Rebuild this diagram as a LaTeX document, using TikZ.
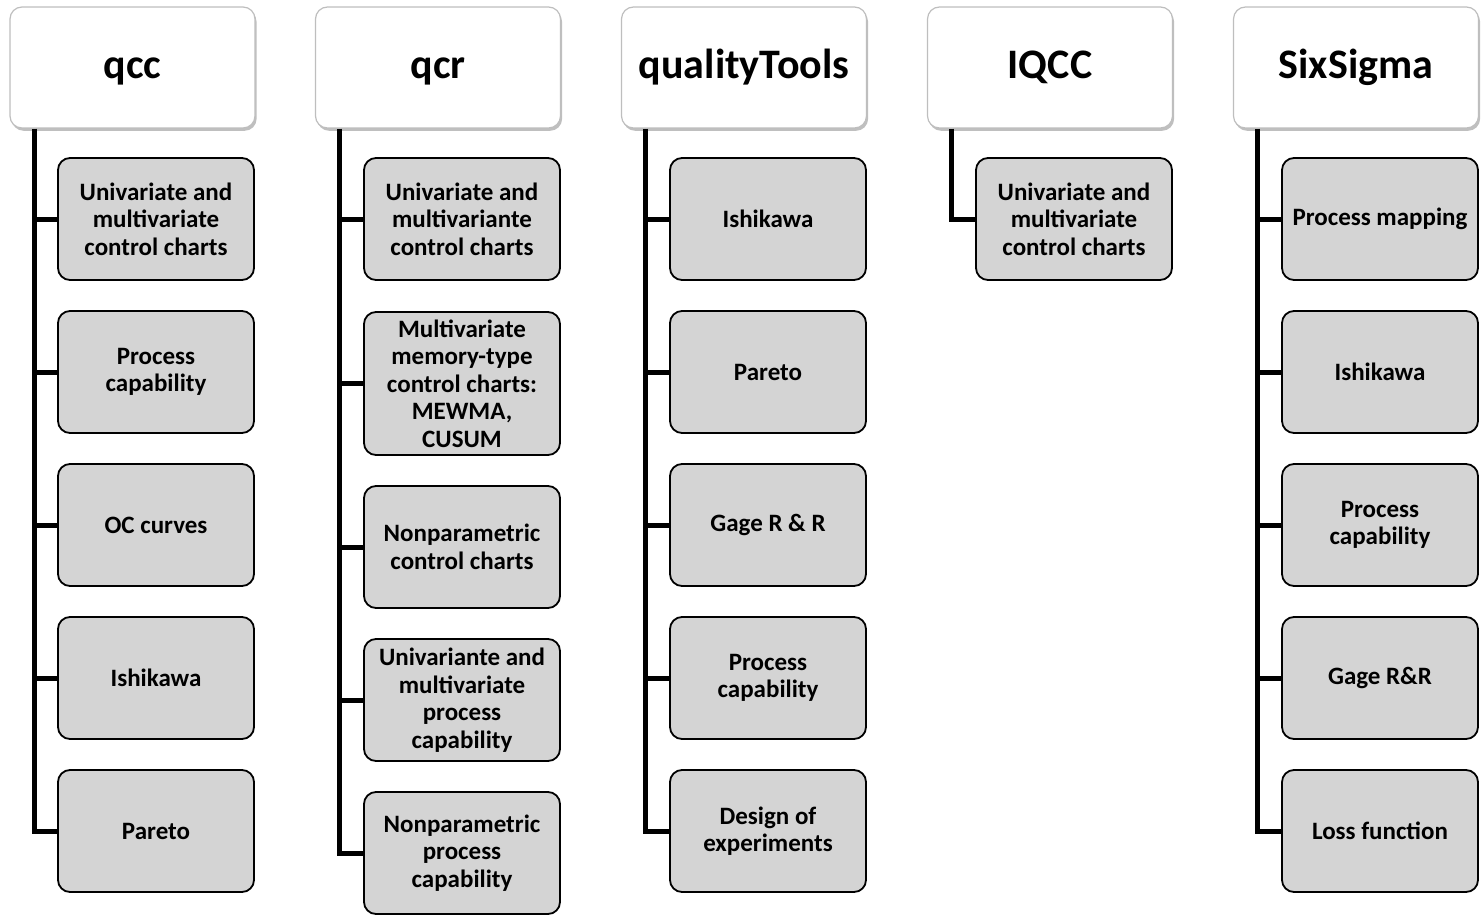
\documentclass[tikz,border=0pt]{standalone}
\usepackage{fontspec}
\setmainfont{Carlito}
\usepackage{tikz}
\usetikzlibrary{shadows}

\definecolor{leaffill}{RGB}{212,212,212}
\definecolor{headline}{RGB}{190,190,190}

\tikzset{
  headbox/.style={draw=headline, line width=0.6pt, fill=white, rounded corners=6pt,
    minimum width=122.5pt, minimum height=60.5pt, inner sep=0pt,
    text height=15pt, text depth=4pt,
    font=\fontsize{21}{25}\selectfont\bfseries,
    drop shadow={shadow xshift=0.8pt, shadow yshift=-1.4pt, opacity=0.25, fill=black}},
  leafbox/.style={draw=black, line width=0.9pt, fill=leaffill, rounded corners=6pt,
    minimum width=98pt, minimum height=61pt, inner sep=0pt, align=center,
    font=\fontsize{12.5}{13.75}\selectfont\bfseries},
  stem/.style={line width=2.5pt, black}
}

\begin{document}
\begin{tikzpicture}[x=0.5pt, y=-0.5pt]
  \useasboundingbox (0,0) rectangle (1483,920);

  % headers
  \node[headbox] (qcc)  at (132.5,67.5) {qcc};
  \node[headbox] (qcr)  at (438,67.5)   {qcr};
  \node[headbox] (qt)   at (744,67.5)   {qualityTools};
  \node[headbox] (iqcc) at (1050,67.5)  {IQCC};
  \node[headbox] (ss)   at (1356,67.5)  {SixSigma};

  % qcc
  \node[leafbox] (qcc-1) at (156,219) {Univariate and\\multivariate\\control charts};
  \node[leafbox] (qcc-2) at (156,372) {Process\\capability};
  \node[leafbox] (qcc-3) at (156,525) {OC curves};
  \node[leafbox] (qcc-4) at (156,678) {Ishikawa};
  \node[leafbox] (qcc-5) at (156,831) {Pareto};

  % qcr
  \node[leafbox] (qcr-1) at (462,219) {Univariate and\\multivariante\\control charts};
  \node[leafbox, minimum height=71.5pt] (qcr-2) at (462,383.5)
    {Multivariate\\memory-type\\control charts:\\MEWMA,\\CUSUM};
  \node[leafbox] (qcr-3) at (462,547) {Nonparametric\\control charts};
  \node[leafbox] (qcr-4) at (462,700) {Univariante and\\multivariate\\process\\capability};
  \node[leafbox] (qcr-5) at (462,853) {Nonparametric\\process\\capability};

  % qualityTools
  \node[leafbox] (qt-1) at (768,219) {Ishikawa};
  \node[leafbox] (qt-2) at (768,372) {Pareto};
  \node[leafbox] (qt-3) at (768,525) {Gage R \& R};
  \node[leafbox] (qt-4) at (768,678) {Process\\capability};
  \node[leafbox] (qt-5) at (768,831) {Design of\\experiments};

  % IQCC
  \node[leafbox] (iqcc-1) at (1074,219) {Univariate and\\multivariate\\control charts};

  % SixSigma
  \node[leafbox] (ss-1) at (1380,219) {Process mapping};
  \node[leafbox] (ss-2) at (1380,372) {Ishikawa};
  \node[leafbox] (ss-3) at (1380,525) {Process\\capability};
  \node[leafbox] (ss-4) at (1380,678) {Gage R\&R};
  \node[leafbox] (ss-5) at (1380,831) {Loss function};

  % spines and branches
  \foreach \c/\n in {qcc/5, qcr/5, qt/5, iqcc/1, ss/5} {
    \coordinate (\c-s) at ([xshift=12.5pt]\c.south west);
    \draw[stem] (\c-s) |- (\c-\n.west);
    \foreach \i in {1,...,\n}
      \draw[stem] (\c-s |- \c-\i.west) -- (\c-\i.west);
  }
\end{tikzpicture}
\end{document}
